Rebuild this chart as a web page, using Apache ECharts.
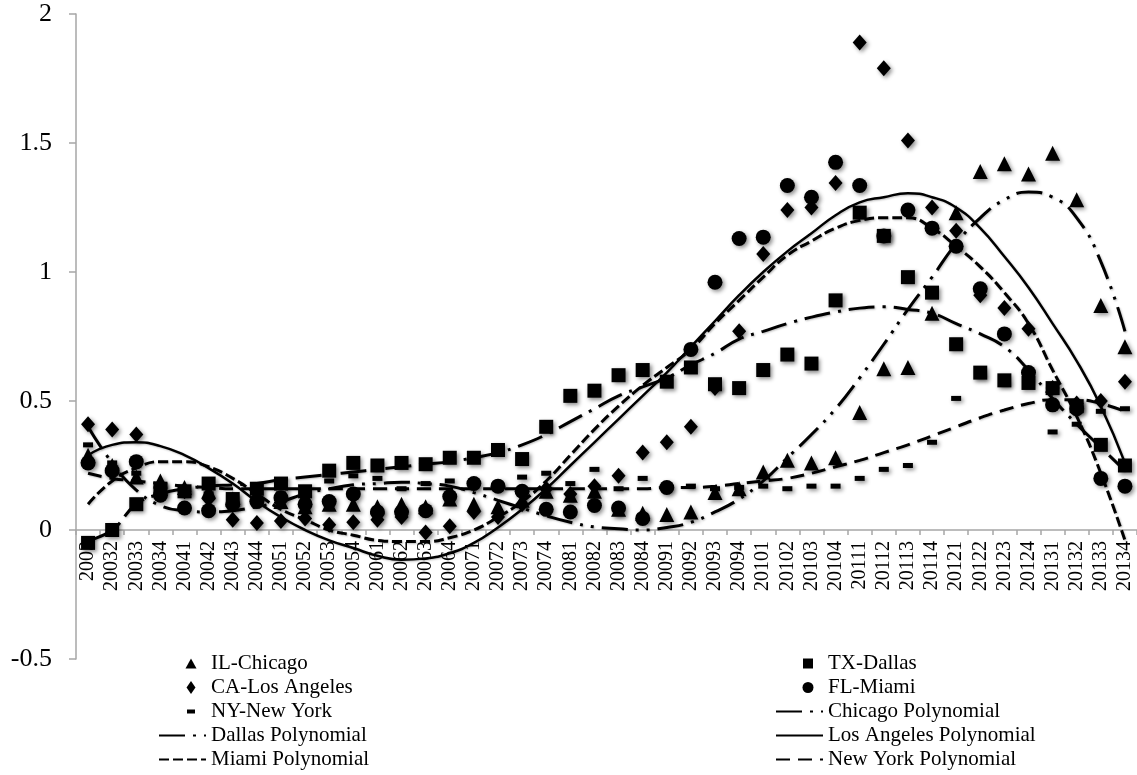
<!DOCTYPE html>
<html>
<head>
<meta charset="utf-8">
<script src="https://cdn.jsdelivr.net/npm/echarts@6/dist/echarts.min.js"></script>
<style>
html,body{margin:0;padding:0;background:#fff;}
#chart{width:1137px;height:775px;}
</style>
</head>
<body>
<div id="chart"></div>
<script>
var categories = ['2003','20032','20033','20034','20041','20042','20043','20044','20051','20052','20053','20054','20061','20062','20063','20064','20071','20072','20073','20074','20081','20082','20083','20084','20091','20092','20093','20094','20101','20102','20103','20104','20111','20112','20113','20114','20121','20122','20123','20124','20131','20132','20133','20134'];

var yTicks = [-0.5, 0, 0.5, 1, 1.5, 2];

var chicago = [0.29,0.25,0.205,0.19,0.165,0.15,0.12,0.14,0.11,0.09,0.10,0.10,0.09,0.10,0.09,0.12,0.10,0.09,0.115,0.15,0.135,0.15,0.08,0.065,0.06,0.07,0.145,0.16,0.225,0.27,0.26,0.28,0.455,0.625,0.63,0.84,1.23,1.39,1.42,1.38,1.46,1.28,0.87,0.71];

var dallas = [-0.05,0.0,0.10,0.16,0.15,0.18,0.12,0.16,0.18,0.15,0.23,0.26,0.25,0.26,0.255,0.28,0.28,0.31,0.275,0.40,0.52,0.54,0.60,0.62,0.575,0.63,0.565,0.55,0.62,0.68,0.645,0.89,1.23,1.14,0.98,0.92,0.72,0.61,0.58,0.57,0.55,0.48,0.33,0.25];

var losAngeles = [0.41,0.39,0.37,0.17,0.15,0.12,0.04,0.027,0.035,0.045,0.02,0.03,0.04,0.05,-0.01,0.015,0.07,0.05,0.10,0.16,0.14,0.17,0.21,0.30,0.34,0.40,0.55,0.77,1.07,1.24,1.25,1.345,1.89,1.79,1.51,1.25,1.16,0.91,0.86,0.78,0.55,0.49,0.50,0.575];

var miami = [0.26,0.23,0.265,0.135,0.085,0.075,0.10,0.11,0.125,0.10,0.11,0.14,0.07,0.07,0.075,0.13,0.18,0.17,0.15,0.08,0.07,0.095,0.085,0.045,0.165,0.70,0.96,1.13,1.135,1.335,1.29,1.425,1.335,1.14,1.24,1.17,1.10,0.935,0.76,0.61,0.485,0.47,0.20,0.17];

var newYork = [0.33,0.26,0.22,0.15,0.16,0.14,0.13,0.15,0.14,0.13,0.19,0.21,0.20,0.16,0.18,0.19,0.17,0.165,0.205,0.22,0.18,0.235,0.16,0.20,0.16,0.17,0.16,0.165,0.17,0.16,0.17,0.17,0.20,0.235,0.25,0.34,0.51,0.60,0.57,0.58,0.38,0.41,0.46,0.47];

// trend lines as drawn (named as in the legend)
var chicagoPoly = [-0.04,0.0,0.10,0.14,0.16,0.17,0.175,0.18,0.195,0.205,0.215,0.225,0.235,0.245,0.255,0.265,0.28,0.30,0.33,0.37,0.42,0.47,0.52,0.555,0.59,0.64,0.685,0.74,0.77,0.80,0.825,0.845,0.86,0.865,0.855,0.84,0.80,0.76,0.71,0.62,0.51,0.41,0.32,0.23];

var dallasPoly = [0.40,0.26,0.155,0.095,0.075,0.07,0.075,0.09,0.11,0.14,0.16,0.175,0.18,0.185,0.18,0.17,0.145,0.115,0.085,0.055,0.03,0.012,0.005,0.0,0.01,0.03,0.07,0.12,0.19,0.28,0.37,0.47,0.59,0.72,0.855,0.98,1.11,1.21,1.28,1.31,1.29,1.21,1.04,0.77];

var losAngelesPoly = [0.29,0.33,0.34,0.325,0.29,0.24,0.18,0.11,0.05,0.0,-0.04,-0.07,-0.10,-0.115,-0.11,-0.09,-0.05,0.01,0.08,0.16,0.25,0.34,0.43,0.52,0.61,0.71,0.81,0.91,1.0,1.08,1.15,1.22,1.27,1.29,1.305,1.29,1.25,1.17,1.06,0.94,0.80,0.655,0.48,0.26];

var miamiPoly = [0.10,0.19,0.24,0.265,0.265,0.245,0.20,0.14,0.08,0.04,0.0,-0.02,-0.04,-0.045,-0.045,-0.03,0.0,0.05,0.11,0.19,0.29,0.39,0.48,0.56,0.63,0.70,0.80,0.89,0.98,1.065,1.12,1.17,1.20,1.21,1.21,1.17,1.10,1.02,0.92,0.80,0.62,0.44,0.22,-0.04];

var newYorkPoly = [0.22,0.20,0.19,0.18,0.17,0.165,0.16,0.16,0.16,0.16,0.16,0.16,0.16,0.16,0.16,0.16,0.16,0.16,0.16,0.16,0.16,0.16,0.16,0.16,0.165,0.165,0.17,0.18,0.19,0.20,0.22,0.245,0.27,0.30,0.33,0.365,0.40,0.435,0.465,0.49,0.505,0.505,0.49,0.46];

var FONT = 'Liberation Serif';
var AXIS = '#a6a6a6';
var markerStyle = {color:'#000', opacity:1, shadowBlur:4, shadowColor:'rgba(0,0,0,0.45)', shadowOffsetX:2, shadowOffsetY:2};

function scatter(name, data, symbol, size){
  return {name:name, type:'scatter', data:data, symbol:symbol, symbolSize:size,
          itemStyle:markerStyle, z:2};
}
function trend(name, data, dash, width){
  return {name:name, type:'line', data:data, smooth:true, symbol:'none', showSymbol:false,
          lineStyle:{color:'#000', width:width, type:dash, cap:'butt',
                     shadowBlur:2, shadowColor:'rgba(0,0,0,0.25)', shadowOffsetX:1, shadowOffsetY:1},
          itemStyle:{color:'#000'}, z:3};
}

// legend icons: 47x13 box, marker drawn small near centre
var BOX = 'path://M0,0M47,13';
var icons = {
  triangle: BOX + 'M32,1.5L37.5,11.5L26.5,11.5Z',
  square:   BOX + 'M27,1.5h10v10h-10Z',
  diamond:  BOX + 'M32,0L36.5,6.5L32,13L27.5,6.5Z',
  circle:   BOX + 'M37.5,6.5A5.5,5.5 0 1 1 26.5,6.5A5.5,5.5 0 1 1 37.5,6.5Z',
  dash:     BOX + 'M28,4.5h8v4h-8Z'
};
var hideSym = {opacity:0};
var legendText = {fontFamily:FONT, fontSize:21, color:'#000'};

function legendBlock(left, items){
  return {orient:'vertical', left:left, top:653, padding:0, itemWidth:47, itemHeight:13, itemGap:3,
          height:125, textStyle:legendText, selectedMode:false, data:items};
}

var option = {
  animation:false,
  backgroundColor:'#fff',
  grid:{left:76, right:-2, top:14, bottom:116, containLabel:false},
  xAxis:{
    type:'category', data:categories, boundaryGap:true, position:'bottom', offset:-129,
    axisLine:{show:true, onZero:false, lineStyle:{color:AXIS, width:1.5}},
    axisTick:{show:true, interval:0, length:5, lineStyle:{color:AXIS, width:1.5}},
    axisLabel:{interval:0, rotate:90, margin:11, fontFamily:FONT, fontSize:20, color:'#000'},
    splitLine:{show:false}
  },
  yAxis:{
    type:'value', min:yTicks[0], max:yTicks[yTicks.length-1], interval:0.5,
    axisLine:{show:true, onZero:false, lineStyle:{color:AXIS, width:1.5}},
    axisTick:{show:true, length:7, lineStyle:{color:AXIS, width:1.5}},
    axisLabel:{margin:24, fontFamily:FONT, fontSize:26, color:'#000', align:'right'},
    splitLine:{show:false}
  },
  legend:[
    legendBlock(158, [
      {name:'IL-Chicago', icon:icons.triangle},
      {name:'CA-Los Angeles', icon:icons.diamond},
      {name:'NY-New York', icon:icons.dash},
      {name:'Dallas Polynomial', itemStyle:hideSym},
      {name:'Miami Polynomial', itemStyle:hideSym}
    ]),
    legendBlock(775, [
      {name:'TX-Dallas', icon:icons.square},
      {name:'FL-Miami', icon:icons.circle},
      {name:'Chicago Polynomial', itemStyle:hideSym},
      {name:'Los Angeles Polynomial', itemStyle:hideSym},
      {name:'New York Polynomial', itemStyle:hideSym}
    ])
  ],
  series:[
    scatter('IL-Chicago', chicago, 'triangle', 15),
    scatter('CA-Los Angeles', losAngeles, 'diamond', [14,16]),
    scatter('FL-Miami', miami, 'circle', 15),
    scatter('TX-Dallas', dallas, 'rect', 14),
    scatter('NY-New York', newYork, 'rect', [10,5]),
    trend('Chicago Polynomial', chicagoPoly, [26,8,3,8], 3),
    trend('Dallas Polynomial', dallasPoly, [26,8,3,8,3,8], 3),
    trend('Los Angeles Polynomial', losAngelesPoly, 'solid', 2.5),
    trend('Miami Polynomial', miamiPoly, [10,4], 3),
    trend('New York Polynomial', newYorkPoly, [14,8], 3)
  ]
};

var chart = echarts.init(document.getElementById('chart'), null, {renderer:'canvas'});
chart.setOption(option);
</script>
</body>
</html>
